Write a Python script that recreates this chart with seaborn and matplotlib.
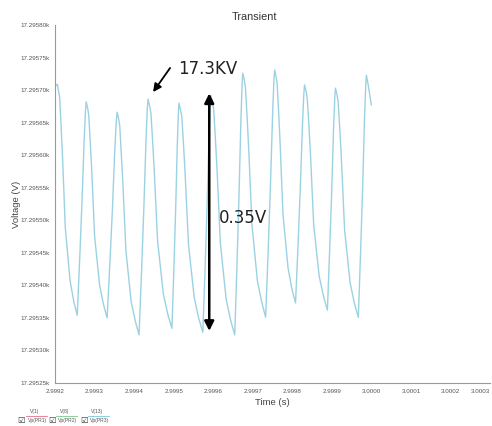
import numpy as np
import pandas as pd
import matplotlib
matplotlib.use("Agg")
import matplotlib.pyplot as plt
import seaborn as sns
from matplotlib.ticker import FuncFormatter
from matplotlib.lines import Line2D

# Time in microseconds after 2.9992 s
time_us = [
    0.0, 5.8, 9.3, 11.8, 15.4, 18.9, 26.0, 38.1, 47.6,
    56.2, 62.3, 68.2, 73.7, 77.1, 78.9, 82.6, 85.2, 89.0, 92.7, 100.1, 112.8, 122.8,
    131.8, 138.6, 145.2, 151.2, 155.0, 157.0, 160.9, 163.7, 167.5, 171.4, 179.2, 192.5, 203.1,
    212.5, 218.6, 224.5, 230.0, 233.4, 235.2, 239.4, 242.5, 246.7, 250.9, 259.4, 273.9, 285.4,
    295.7, 300.5, 305.1, 309.3, 312.0, 313.4, 317.6, 320.6, 324.9, 329.1, 337.6, 352.1, 363.5,
    373.8, 379.3, 384.5, 389.4, 392.4, 394.0, 398.2, 401.3, 405.5, 409.7, 418.2, 432.7, 444.2,
    454.5, 460.0, 465.2, 470.1, 473.1, 474.7, 478.8, 481.6, 485.7, 489.8, 497.9, 511.8, 522.8,
    532.6, 538.8, 544.7, 550.2, 553.6, 555.4, 559.1, 561.7, 565.4, 569.1, 576.5, 589.2, 599.2,
    608.2, 614.4, 620.3, 625.8, 629.2, 631.0, 635.0, 637.9, 642.0, 646.0, 654.1, 668.0, 679.0,
    688.8, 694.3, 699.6, 704.4, 707.5, 709.1, 713.2, 716.0, 720.1, 724.2, 732.3, 746.2, 757.2,
    767.0, 772.5, 777.8, 782.6, 785.7, 787.3, 791.3, 794.0, 799.9,
]
voltage_v = [
    17295.706, 17295.709, 17295.698, 17295.688, 17295.645, 17295.599, 17295.489, 17295.407, 17295.375,
    17295.354, 17295.439, 17295.528, 17295.623, 17295.669, 17295.682, 17295.672, 17295.662, 17295.622, 17295.579, 17295.476, 17295.400, 17295.370,
    17295.350, 17295.432, 17295.517, 17295.609, 17295.653, 17295.666, 17295.656, 17295.645, 17295.604, 17295.560, 17295.454, 17295.375, 17295.345,
    17295.324, 17295.418, 17295.516, 17295.621, 17295.672, 17295.686, 17295.675, 17295.665, 17295.623, 17295.577, 17295.468, 17295.387, 17295.355,
    17295.334, 17295.424, 17295.517, 17295.618, 17295.666, 17295.680, 17295.669, 17295.659, 17295.617, 17295.571, 17295.462, 17295.381, 17295.349,
    17295.328, 17295.423, 17295.521, 17295.626, 17295.677, 17295.692, 17295.681, 17295.670, 17295.626, 17295.578, 17295.464, 17295.379, 17295.346,
    17295.324, 17295.429, 17295.537, 17295.654, 17295.710, 17295.726, 17295.715, 17295.704, 17295.659, 17295.610, 17295.494, 17295.407, 17295.374,
    17295.351, 17295.450, 17295.552, 17295.663, 17295.716, 17295.731, 17295.720, 17295.710, 17295.667, 17295.620, 17295.509, 17295.427, 17295.394,
    17295.373, 17295.460, 17295.551, 17295.648, 17295.695, 17295.708, 17295.698, 17295.687, 17295.646, 17295.601, 17295.493, 17295.414, 17295.383,
    17295.362, 17295.451, 17295.543, 17295.642, 17295.689, 17295.703, 17295.692, 17295.682, 17295.640, 17295.594, 17295.485, 17295.404, 17295.372,
    17295.351, 17295.448, 17295.548, 17295.656, 17295.708, 17295.723, 17295.710, 17295.700, 17295.677,
]

t_start = 2.9992
y_ticks = [17295.25, 17295.30, 17295.35, 17295.40, 17295.45, 17295.50,
           17295.55, 17295.60, 17295.65, 17295.70, 17295.75, 17295.80]
x_ticks = [2.9992, 2.9993, 2.9994, 2.9995, 2.9996, 2.9997,
           2.9998, 2.9999, 3.0000, 3.0001, 3.0002, 3.0003]
x_tick_labels = ["2.9992", "2.9993", "2.9994", "2.9995", "2.9996", "2.9997",
                 "2.9998", "2.9999", "3.0000", "3.0001", "3.0002", "3.0003"]

legend_top = ["V(1)", "V(8)", "V(13)"]
legend_bottom = ["Vp(PR1)", "Vp(PR2)", "Vp(PR3)"]
legend_colors = ["#e8889a", "#8fd19e", "#8ecfe0"]

# annotation anchors
peak_label = "17.3KV"
span_label = "0.35V"
span_top = 17295.695
span_bottom = 17295.330
span_time = 2.99959
peak_tip = (2.999448, 17295.697)
peak_tail = (2.999491, 17295.734)

sns.set_style("white")
plt.rcParams["font.family"] = ["Liberation Sans", "DejaVu Sans"]

df = pd.DataFrame({"t": t_start + np.array(time_us) * 1e-6, "v": voltage_v})

fig = plt.figure(figsize=(4.92, 4.26), dpi=100)
ax = fig.add_axes([0.1118, 0.1009, 0.8842, 0.8404])
sns.lineplot(data=df, x="t", y="v", ax=ax, color="#9bd2e2", linewidth=1.0,
             sort=False, estimator=None)

ax.set_xlim(2.9992, 3.0003)
ax.set_ylim(17295.25, 17295.80)
ax.set_yticks(y_ticks)
ax.yaxis.set_major_formatter(FuncFormatter(lambda v, p: f"{v/1000:.5f}k"))
ax.set_xticks(x_ticks)
ax.set_xticklabels(x_tick_labels)
ax.get_xticklabels()[-1].set_horizontalalignment("right")

for s in ["top", "right"]:
    ax.spines[s].set_visible(False)
for s in ["left", "bottom"]:
    ax.spines[s].set_color("#9a9a9a")
    ax.spines[s].set_linewidth(0.8)
ax.tick_params(axis="both", which="major", labelsize=4.5, colors="#9a9a9a",
               labelcolor="#555555", length=2.5, width=0.7, direction="out", pad=1.5)

ax.set_xlabel("Time (s)", fontsize=6.8, color="#444444", labelpad=3)
ax.set_ylabel("Voltage (V)", fontsize=6.8, color="#444444")
ax.yaxis.set_label_coords(-0.078, 0.5)
fig.text(254 / 492, 1 - 17 / 426, "Transient", fontsize=7.8, color="#333333",
         ha="center", va="center")

# Annotations
ax.annotate("", xy=(span_time, span_top), xytext=(span_time, span_bottom),
            arrowprops=dict(arrowstyle="<|-|>", color="black", lw=1.8,
                            mutation_scale=14, shrinkA=0, shrinkB=0))
ax.text(2.999615, 17295.503, span_label, fontsize=12, color="#222222",
        va="center", ha="left", family="DejaVu Sans")
ax.annotate("", xy=peak_tip, xytext=peak_tail,
            arrowprops=dict(arrowstyle="-|>", color="black", lw=1.3,
                            mutation_scale=12, shrinkA=0, shrinkB=0))
ax.text(2.999512, 17295.733, peak_label, fontsize=12, color="#222222",
        va="center", ha="left", family="DejaVu Sans")

# Legend-like key at the bottom-left
x0s = [0.040, 0.102, 0.167]
for x0, top, bot, col in zip(x0s, legend_top, legend_bottom, legend_colors):
    fig.text(x0 + 0.030, 0.031, top, fontsize=3.6, color="#555555", ha="center")
    fig.add_artist(Line2D([x0 + 0.012, x0 + 0.055], [0.024, 0.024],
                          transform=fig.transFigure, color=col, lw=0.8))
    fig.text(x0 - 0.004, 0.008, "\u2611", fontsize=6, color="#333333",
             family="DejaVu Sans")
    fig.text(x0 + 0.016, 0.010, bot, fontsize=3.6, color="#555555")

fig.savefig("out.png", dpi=100)
